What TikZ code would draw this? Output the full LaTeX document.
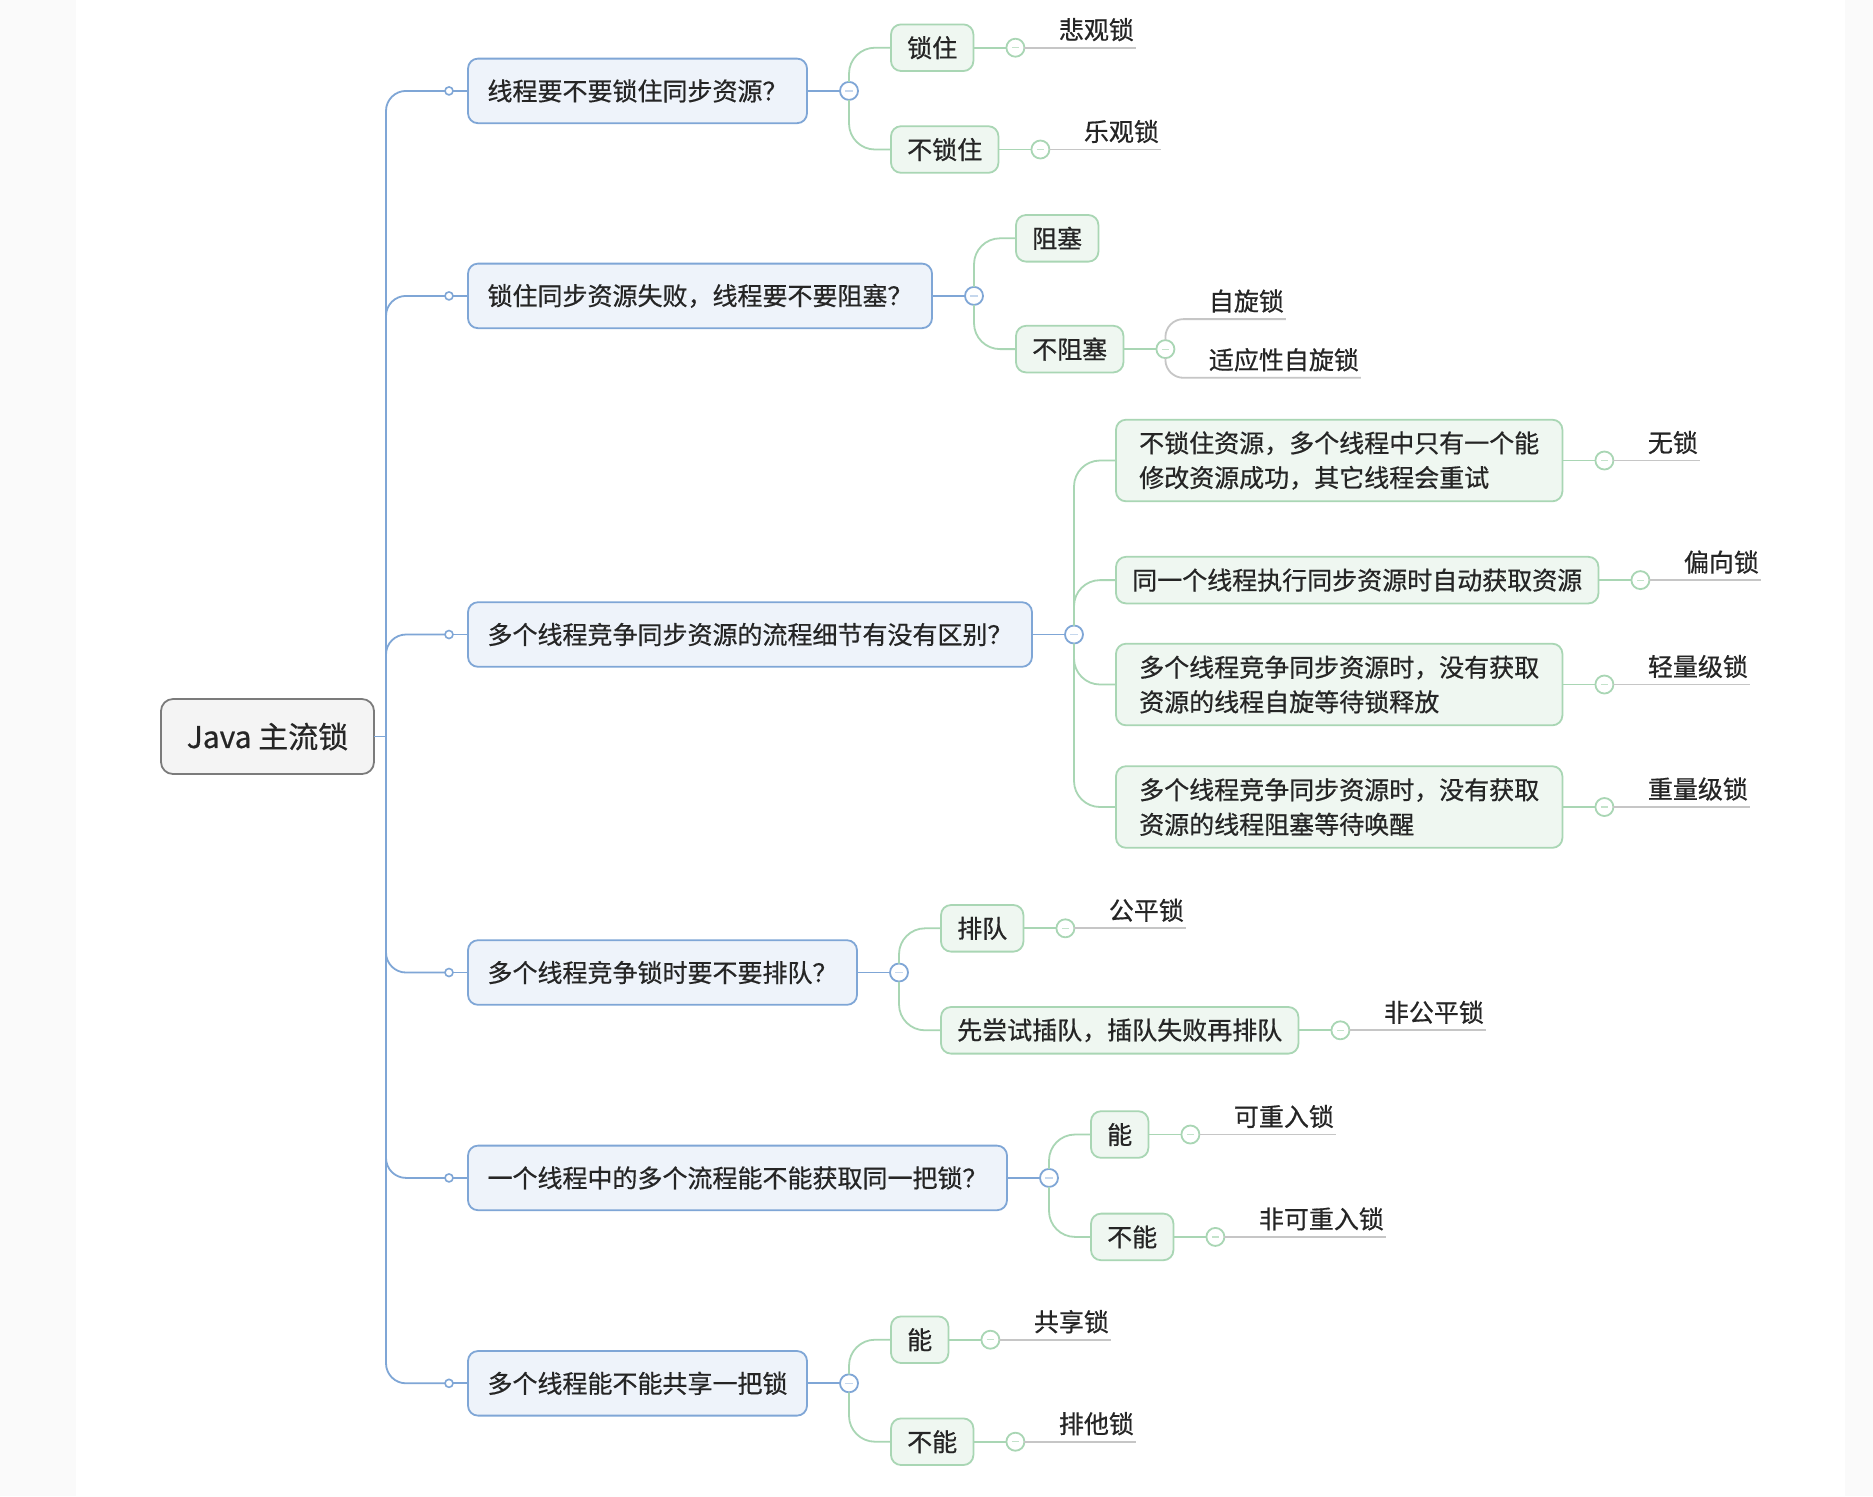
\documentclass[tikz,border=0pt]{standalone}
\usepackage{fontspec}
\setmainfont{Noto Sans CJK SC}[FakeBold=0.6]
\usetikzlibrary{positioning}

\definecolor{lineblue}{HTML}{7FA6D6}
\definecolor{fillblue}{HTML}{EEF3FA}
\definecolor{linegreen}{HTML}{A9D6B4}
\definecolor{fillgreen}{HTML}{EFF7F1}
\definecolor{lineleaf}{HTML}{C6C6C6}
\definecolor{lineroot}{HTML}{7B7B7B}
\definecolor{fillroot}{HTML}{F4F4F4}
\definecolor{txt}{HTML}{252525}
\definecolor{sidebg}{HTML}{FAFAFA}

\tikzstyle{line_b} = [draw=lineblue, line width=0.9pt]
\tikzstyle{line_g} = [draw=linegreen, line width=0.9pt]
\tikzstyle{line_u} = [draw=lineleaf, line width=0.9pt]
\tikzstyle{root_box} = [rectangle, draw=lineroot, fill=fillroot, line width=0.9pt, rounded corners=6pt, outer sep=0pt, minimum width=106.5pt, minimum height=37.5pt, text=txt, font=\fontsize{15}{18}\selectfont]
\tikzstyle{q_box} = [rectangle, draw=lineblue, fill=fillblue, line width=0.9pt, rounded corners=5pt, outer sep=0pt, inner xsep=9.75pt, minimum height=32.3pt, text=txt, font=\fontsize{12.5}{17.3}\selectfont]
\tikzstyle{a_box} = [rectangle, draw=linegreen, fill=fillgreen, line width=0.9pt, rounded corners=5pt, outer sep=0pt, inner xsep=8.1pt, minimum height=23.3pt, text=txt, font=\fontsize{12.5}{17.3}\selectfont]
\tikzstyle{a_two} = [a_box, inner xsep=11.6pt, minimum height=40.8pt, align=left]
\tikzstyle{leaf_txt} = [outer sep=0pt, inner xsep=1pt, inner ysep=1.75pt, text height=9.5pt, text depth=2.5pt, text=txt, font=\fontsize{12.5}{17.3}\selectfont]
\tikzstyle{dot_s} = [circle, draw=lineblue, fill=white, line width=0.8pt, outer sep=0pt, inner sep=0pt, minimum size=4pt]
\tikzstyle{fold_b} = [circle, draw=lineblue, fill=white, line width=0.9pt, outer sep=0pt, inner sep=0pt, minimum size=9pt, path picture={\draw[lineblue!45, line width=0.6pt] ([xshift=-1.8pt]path picture bounding box.center) -- ([xshift=1.8pt]path picture bounding box.center);}]
\tikzstyle{fold_g} = [circle, draw=linegreen, fill=white, line width=0.9pt, outer sep=0pt, inner sep=0pt, minimum size=9pt, path picture={\draw[linegreen!70, line width=0.6pt] ([xshift=-1.8pt]path picture bounding box.center) -- ([xshift=1.8pt]path picture bounding box.center);}]

\begin{document}
\begin{tikzpicture}
	\useasboundingbox (0,0) rectangle (936.5pt,-748pt);
	\fill [sidebg] (0,0) rectangle (936.5pt,-748pt);
	\fill [white] (38pt,0) rectangle (922.5pt,-748pt);

	\node [root_box] (root) at (133.75pt,-368.25pt) {Java 主流锁};
	\coordinate [right=6pt of root] (tr);

	\node [q_box, right=47pt of root, yshift=322.8pt] (q1) {线程要不要锁住同步资源？};
	\node [q_box, right=47pt of root, yshift=220.3pt] (q2) {锁住同步资源失败，线程要不要阻塞？};
	\node [q_box, right=47pt of root, yshift=51pt] (q3) {多个线程竞争同步资源的流程细节有没有区别？};
	\node [q_box, right=47pt of root, yshift=-118pt] (q4) {多个线程竞争锁时要不要排队？};
	\node [q_box, right=47pt of root, yshift=-220.7pt] (q5) {一个线程中的多个流程能不能获取同一把锁？};
	\node [q_box, right=47pt of root, yshift=-323.4pt] (q6) {多个线程能不能共享一把锁};

	\node [dot_s, left=7.5pt of q1] (d1) {};
	\node [dot_s, left=7.5pt of q2] (d2) {};
	\node [dot_s, left=7.5pt of q3] (d3) {};
	\node [dot_s, left=7.5pt of q4] (d4) {};
	\node [dot_s, left=7.5pt of q5] (d5) {};
	\node [dot_s, left=7.5pt of q6] (d6) {};

	\node [fold_b, right=16.5pt of q1] (c1) {};
	\node [fold_b, right=16.5pt of q2] (c2) {};
	\node [fold_b, right=16.5pt of q3] (c3) {};
	\node [fold_b, right=16.5pt of q4] (c4) {};
	\node [fold_b, right=16.5pt of q5] (c5) {};
	\node [fold_b, right=16.5pt of q6] (c6) {};

	\node [a_box, right=16.5pt of c1, yshift=21.6pt] (a11) {锁住};
	\node [a_box, right=16.5pt of c1, yshift=-29.3pt] (a12) {不锁住};
	\node [a_box, right=16.5pt of c2, yshift=28.8pt] (a21) {阻塞};
	\node [a_box, right=16.5pt of c2, yshift=-26.6pt] (a22) {不阻塞};
	\node [a_two, right=16.5pt of c3, yshift=87pt] (a31) {不锁住资源，多个线程中只有一个能\\修改资源成功，其它线程会重试};
	\node [a_box, right=16.5pt of c3, yshift=27.2pt] (a32) {同一个线程执行同步资源时自动获取资源};
	\node [a_two, right=16.5pt of c3, yshift=-25pt] (a33) {多个线程竞争同步资源时，没有获取\\资源的线程自旋等待锁释放};
	\node [a_two, right=16.5pt of c3, yshift=-86.25pt] (a34) {多个线程竞争同步资源时，没有获取\\资源的线程阻塞等待唤醒};
	\node [a_box, right=16.5pt of c4, yshift=22.1pt] (a41) {排队};
	\node [a_box, right=16.5pt of c4, yshift=-28.9pt] (a42) {先尝试插队，插队失败再排队};
	\node [a_box, right=16.5pt of c5, yshift=21.7pt] (a51) {能};
	\node [a_box, right=16.5pt of c5, yshift=-29.5pt] (a52) {不能};
	\node [a_box, right=16.5pt of c6, yshift=21.8pt] (a61) {能};
	\node [a_box, right=16.5pt of c6, yshift=-29.2pt] (a62) {不能};

	\node [fold_g, right=16.5pt of a11] (f11) {};
	\node [fold_g, right=16.5pt of a12] (f12) {};
	\node [fold_g, right=16.5pt of a22] (f22) {};
	\node [fold_g, right=16.5pt of a31] (f31) {};
	\node [fold_g, right=16.5pt of a32] (f32) {};
	\node [fold_g, right=16.5pt of a33] (f33) {};
	\node [fold_g, right=16.5pt of a34] (f34) {};
	\node [fold_g, right=16.5pt of a41] (f41) {};
	\node [fold_g, right=16.5pt of a42] (f42) {};
	\node [fold_g, right=16.5pt of a51] (f51) {};
	\node [fold_g, right=16.5pt of a52] (f52) {};
	\node [fold_g, right=16.5pt of a61] (f61) {};
	\node [fold_g, right=16.5pt of a62] (f62) {};

	\node [leaf_txt, right=16.25pt of f11, anchor=south west] (l11) {悲观锁};
	\node [leaf_txt, right=16.25pt of f12, anchor=south west] (l12) {乐观锁};
	\node [leaf_txt, right=16.25pt of f22, anchor=south west, yshift=15pt] (l22a) {自旋锁};
	\node [leaf_txt, right=16.25pt of f22, anchor=south west, yshift=-14.35pt] (l22b) {适应性自旋锁};
	\node [leaf_txt, right=16.25pt of f31, anchor=south west] (l31) {无锁};
	\node [leaf_txt, right=16.25pt of f32, anchor=south west] (l32) {偏向锁};
	\node [leaf_txt, right=16.25pt of f33, anchor=south west] (l33) {轻量级锁};
	\node [leaf_txt, right=16.25pt of f34, anchor=south west] (l34) {重量级锁};
	\node [leaf_txt, right=16.25pt of f41, anchor=south west] (l41) {公平锁};
	\node [leaf_txt, right=16.25pt of f42, anchor=south west] (l42) {非公平锁};
	\node [leaf_txt, right=16.25pt of f51, anchor=south west] (l51) {可重入锁};
	\node [leaf_txt, right=16.25pt of f52, anchor=south west] (l52) {非可重入锁};
	\node [leaf_txt, right=16.25pt of f61, anchor=south west] (l61) {共享锁};
	\node [leaf_txt, right=16.25pt of f62, anchor=south west] (l62) {排他锁};

	\path [line_b] (root) -- (tr);
	\path [line_b, rounded corners=10pt] (tr) |- (d1);
	\path [line_b, rounded corners=10pt] (tr) |- (d2);
	\path [line_b, rounded corners=10pt] (tr) |- (d3);
	\path [line_b, rounded corners=10pt] (tr) |- (d4);
	\path [line_b, rounded corners=10pt] (tr) |- (d5);
	\path [line_b, rounded corners=10pt] (tr) |- (d6);
	\path [line_b] (d1) -- (q1);
	\path [line_b] (d2) -- (q2);
	\path [line_b] (d3) -- (q3);
	\path [line_b] (d4) -- (q4);
	\path [line_b] (d5) -- (q5);
	\path [line_b] (d6) -- (q6);
	\path [line_b] (q1) -- (c1);
	\path [line_b] (q2) -- (c2);
	\path [line_b] (q3) -- (c3);
	\path [line_b] (q4) -- (c4);
	\path [line_b] (q5) -- (c5);
	\path [line_b] (q6) -- (c6);

	\path [line_g, rounded corners=13pt] (c1) |- (a11);
	\path [line_g, rounded corners=13pt] (c1) |- (a12);
	\path [line_g, rounded corners=13pt] (c2) |- (a21);
	\path [line_g, rounded corners=13pt] (c2) |- (a22);
	\path [line_g, rounded corners=13pt] (c3) |- (a31);
	\path [line_g, rounded corners=13pt] (c3) |- (a32);
	\path [line_g, rounded corners=13pt] (c3) |- (a33);
	\path [line_g, rounded corners=13pt] (c3) |- (a34);
	\path [line_g, rounded corners=13pt] (c4) |- (a41);
	\path [line_g, rounded corners=13pt] (c4) |- (a42);
	\path [line_g, rounded corners=13pt] (c5) |- (a51);
	\path [line_g, rounded corners=13pt] (c5) |- (a52);
	\path [line_g, rounded corners=13pt] (c6) |- (a61);
	\path [line_g, rounded corners=13pt] (c6) |- (a62);

	\path [line_g] (a11) -- (f11);
	\path [line_g] (a12) -- (f12);
	\path [line_g] (a22) -- (f22);
	\path [line_g] (a31) -- (f31);
	\path [line_g] (a32) -- (f32);
	\path [line_g] (a33) -- (f33);
	\path [line_g] (a34) -- (f34);
	\path [line_g] (a41) -- (f41);
	\path [line_g] (a42) -- (f42);
	\path [line_g] (a51) -- (f51);
	\path [line_g] (a52) -- (f52);
	\path [line_g] (a61) -- (f61);
	\path [line_g] (a62) -- (f62);

	\path [line_u] (f11) -- (l11.south east);
	\path [line_u] (f12) -- (l12.south east);
	\path [line_u, rounded corners=9pt] (f22) |- (l22a.south east);
	\path [line_u, rounded corners=9pt] (f22) |- (l22b.south east);
	\path [line_u] (f31) -- (l31.south east);
	\path [line_u] (f32) -- (l32.south east);
	\path [line_u] (f33) -- (l33.south east);
	\path [line_u] (f34) -- (l34.south east);
	\path [line_u] (f41) -- (l41.south east);
	\path [line_u] (f42) -- (l42.south east);
	\path [line_u] (f51) -- (l51.south east);
	\path [line_u] (f52) -- (l52.south east);
	\path [line_u] (f61) -- (l61.south east);
	\path [line_u] (f62) -- (l62.south east);
\end{tikzpicture}
\end{document}
